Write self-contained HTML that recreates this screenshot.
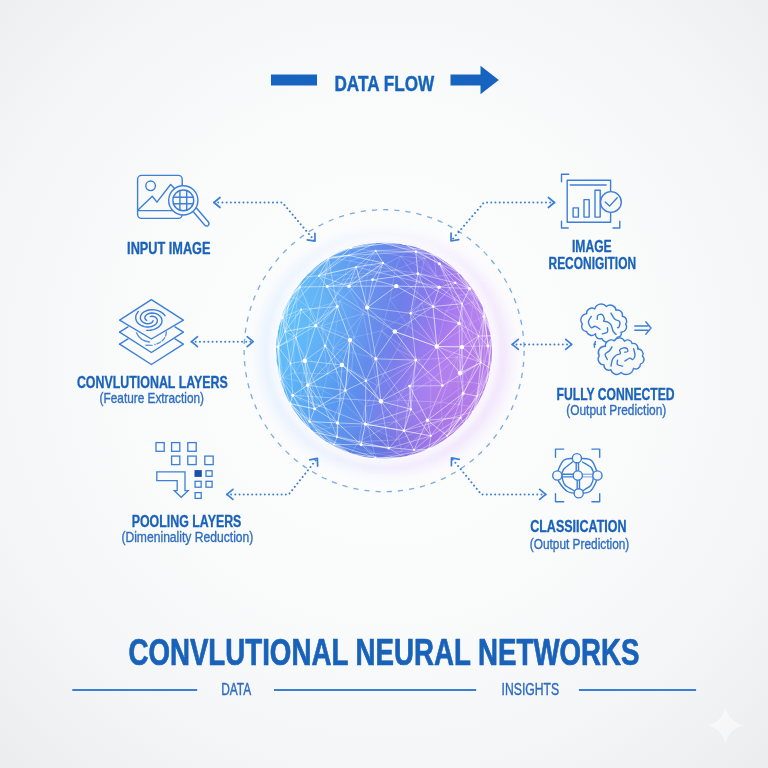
<!DOCTYPE html>
<html><head><meta charset="utf-8"><title>CNN</title>
<style>html,body{margin:0;padding:0;width:768px;height:768px;overflow:hidden;background:#f4f5f7;font-family:"Liberation Sans",sans-serif;}svg{display:block;will-change:transform}</style>
</head><body>
<svg width="768" height="768" viewBox="0 0 768 768" font-family='"Liberation Sans", sans-serif'><defs>
<radialGradient id="bg" cx="384" cy="360" r="600" gradientUnits="userSpaceOnUse">
 <stop offset="0" stop-color="#fdfdfd"/><stop offset="0.4" stop-color="#fafbfb"/><stop offset="0.7" stop-color="#f4f5f6"/><stop offset="1" stop-color="#e9eaec"/>
</radialGradient>
<linearGradient id="sph" x1="275" y1="340" x2="493" y2="362" gradientUnits="userSpaceOnUse">
 <stop offset="0" stop-color="#5cbaf9"/><stop offset="0.3" stop-color="#5798f0"/><stop offset="0.55" stop-color="#687be8"/><stop offset="0.78" stop-color="#a077ee"/><stop offset="1" stop-color="#cd88f6"/>
</linearGradient>
<radialGradient id="glow" cx="384" cy="350.5" r="145" gradientUnits="userSpaceOnUse">
 <stop offset="0.72" stop-color="#ffffff" stop-opacity="1"/><stop offset="0.82" stop-color="#fbfcff" stop-opacity="0.7"/><stop offset="1" stop-color="#ffffff" stop-opacity="0"/>
</radialGradient>
<radialGradient id="shade" cx="340" cy="300" r="150" gradientUnits="userSpaceOnUse">
 <stop offset="0" stop-color="#ffffff" stop-opacity="0.08"/><stop offset="0.7" stop-color="#ffffff" stop-opacity="0"/><stop offset="1" stop-color="#3040a0" stop-opacity="0.12"/>
</radialGradient>
<radialGradient id="purp" cx="470" cy="410" r="110" gradientUnits="userSpaceOnUse">
 <stop offset="0" stop-color="#c983f4" stop-opacity="0.8"/><stop offset="1" stop-color="#c983f4" stop-opacity="0"/>
</radialGradient>
<radialGradient id="lblue" cx="280" cy="320" r="90" gradientUnits="userSpaceOnUse">
 <stop offset="0" stop-color="#5cc0fa" stop-opacity="0.7"/><stop offset="1" stop-color="#5cc0fa" stop-opacity="0"/>
</radialGradient>
<clipPath id="sc"><circle cx="384" cy="350.5" r="109"/></clipPath>
<filter id="blur05" x="-50%" y="-50%" width="200%" height="200%"><feGaussianBlur stdDeviation="0.4"/></filter>
<filter id="blur3" x="-50%" y="-50%" width="200%" height="200%"><feGaussianBlur stdDeviation="3"/></filter>
<filter id="blur06" x="-50%" y="-50%" width="200%" height="200%"><feGaussianBlur stdDeviation="0.6"/></filter>
<filter id="blur2" x="-50%" y="-50%" width="200%" height="200%"><feGaussianBlur stdDeviation="1.2"/></filter>
<filter id="blur8" x="-50%" y="-50%" width="200%" height="200%"><feGaussianBlur stdDeviation="8"/></filter>
</defs>
<rect width="768" height="768" fill="url(#bg)"/>
<circle cx="384" cy="350.5" r="150" fill="url(#glow)"/>
<circle cx="375" cy="352.5" r="115" fill="#d3e8fc" opacity="0.6" filter="url(#blur8)"/>
<circle cx="396" cy="354.5" r="114" fill="#ead2fa" opacity="0.6" filter="url(#blur8)"/>
<circle cx="384" cy="350.5" r="111" fill="none" stroke="#ffffff" stroke-width="7" filter="url(#blur3)" opacity="0.85"/>
<circle cx="384" cy="350.5" r="109" fill="url(#sph)"/>
<circle cx="384" cy="350.5" r="109" fill="url(#purp)"/>
<circle cx="384" cy="350.5" r="109" fill="url(#lblue)"/>
<g clip-path="url(#sc)">
<circle cx="384" cy="350.5" r="109" fill="url(#shade)"/>
<g stroke="#ffffff" stroke-width="0.8" fill="none"><line x1="403.7" y1="243.5" x2="378.5" y2="241.8" stroke-opacity="0.7"/><line x1="367.2" y1="307.6" x2="383.0" y2="262.9" stroke-opacity="0.5"/><line x1="389.9" y1="299.5" x2="419.6" y2="282.2" stroke-opacity="0.28"/><line x1="436.8" y1="346.5" x2="394.8" y2="331.5" stroke-opacity="0.7"/><line x1="290.6" y1="297.1" x2="289.4" y2="296.9" stroke-opacity="0.5"/><line x1="374.4" y1="453.5" x2="401.3" y2="451.5" stroke-opacity="0.2"/><line x1="403.7" y1="243.5" x2="411.5" y2="247.9" stroke-opacity="0.6"/><line x1="363.2" y1="313.7" x2="354.3" y2="337.1" stroke-opacity="0.2"/><line x1="350.2" y1="261.1" x2="349.6" y2="248.5" stroke-opacity="0.2"/><line x1="427.4" y1="420.2" x2="442.4" y2="385.6" stroke-opacity="0.5"/><line x1="305.9" y1="355.9" x2="293.3" y2="340.4" stroke-opacity="0.2"/><line x1="374.4" y1="453.5" x2="358.8" y2="441.7" stroke-opacity="0.28"/><line x1="337.5" y1="422.9" x2="337.1" y2="437.1" stroke-opacity="0.7"/><line x1="367.4" y1="273.5" x2="323.6" y2="275.6" stroke-opacity="0.2"/><line x1="361.1" y1="444.6" x2="414.0" y2="450.0" stroke-opacity="0.7"/><line x1="340.9" y1="400.3" x2="368.0" y2="425.8" stroke-opacity="0.2"/><line x1="404.0" y1="430.7" x2="410.9" y2="409.2" stroke-opacity="0.7"/><line x1="404.4" y1="457.6" x2="388.8" y2="448.3" stroke-opacity="0.5"/><line x1="292.7" y1="395.2" x2="280.4" y2="379.7" stroke-opacity="0.5"/><line x1="430.9" y1="435.8" x2="404.0" y2="430.7" stroke-opacity="0.5"/><line x1="309.6" y1="421.6" x2="334.0" y2="444.5" stroke-opacity="0.5"/><line x1="333.1" y1="348.1" x2="340.9" y2="400.3" stroke-opacity="0.28"/><line x1="358.8" y1="441.7" x2="368.0" y2="425.8" stroke-opacity="0.2"/><line x1="350.9" y1="247.8" x2="349.6" y2="248.5" stroke-opacity="0.5"/><line x1="430.8" y1="380.5" x2="419.2" y2="359.9" stroke-opacity="0.28"/><line x1="440.6" y1="402.2" x2="458.6" y2="404.6" stroke-opacity="0.28"/><line x1="477.3" y1="396.2" x2="464.0" y2="424.2" stroke-opacity="0.7"/><line x1="462.0" y1="347.1" x2="478.5" y2="336.0" stroke-opacity="0.6"/><line x1="477.3" y1="396.2" x2="463.1" y2="393.4" stroke-opacity="0.7"/><line x1="284.8" y1="319.2" x2="282.4" y2="317.5" stroke-opacity="0.6"/><line x1="457.3" y1="357.1" x2="470.3" y2="324.0" stroke-opacity="0.2"/><line x1="427.4" y1="420.2" x2="414.0" y2="450.0" stroke-opacity="0.6"/><line x1="371.8" y1="357.3" x2="381.7" y2="330.8" stroke-opacity="0.28"/><line x1="430.4" y1="426.0" x2="401.3" y2="451.5" stroke-opacity="0.28"/><line x1="457.3" y1="357.1" x2="478.0" y2="359.6" stroke-opacity="0.2"/><line x1="314.7" y1="408.8" x2="290.2" y2="403.7" stroke-opacity="0.6"/><line x1="333.1" y1="348.1" x2="354.3" y2="337.1" stroke-opacity="0.2"/><line x1="469.5" y1="288.6" x2="455.3" y2="282.8" stroke-opacity="0.6"/><line x1="461.0" y1="273.6" x2="427.8" y2="250.9" stroke-opacity="0.7"/><line x1="361.1" y1="444.6" x2="334.0" y2="444.5" stroke-opacity="0.6"/><line x1="443.5" y1="433.3" x2="470.9" y2="406.5" stroke-opacity="0.28"/><line x1="470.3" y1="324.0" x2="457.6" y2="295.4" stroke-opacity="0.28"/><line x1="350.0" y1="340.1" x2="315.7" y2="325.8" stroke-opacity="0.5"/><line x1="430.4" y1="426.0" x2="458.6" y2="404.6" stroke-opacity="0.28"/><line x1="481.7" y1="384.0" x2="473.3" y2="411.7" stroke-opacity="0.28"/><line x1="280.4" y1="379.7" x2="277.9" y2="346.8" stroke-opacity="0.7"/><line x1="309.6" y1="421.6" x2="314.7" y2="408.8" stroke-opacity="0.6"/><line x1="294.5" y1="372.9" x2="327.7" y2="373.7" stroke-opacity="0.28"/><line x1="463.1" y1="393.4" x2="460.1" y2="373.0" stroke-opacity="0.5"/><line x1="363.2" y1="313.7" x2="343.1" y2="279.7" stroke-opacity="0.2"/><line x1="365.3" y1="424.1" x2="404.0" y2="430.7" stroke-opacity="0.6"/><line x1="475.4" y1="293.6" x2="473.3" y2="302.0" stroke-opacity="0.28"/><line x1="457.3" y1="357.1" x2="437.2" y2="345.5" stroke-opacity="0.2"/><line x1="326.3" y1="442.4" x2="315.6" y2="429.8" stroke-opacity="0.28"/><line x1="342.0" y1="365.0" x2="350.0" y2="340.1" stroke-opacity="0.5"/><line x1="318.8" y1="275.7" x2="348.6" y2="255.4" stroke-opacity="0.6"/><line x1="304.8" y1="360.8" x2="290.5" y2="363.5" stroke-opacity="0.5"/><line x1="436.8" y1="346.5" x2="460.1" y2="373.0" stroke-opacity="0.7"/><line x1="389.9" y1="299.5" x2="381.7" y2="330.8" stroke-opacity="0.2"/><line x1="339.9" y1="300.9" x2="367.4" y2="273.5" stroke-opacity="0.28"/><line x1="380.9" y1="401.3" x2="365.9" y2="380.8" stroke-opacity="0.7"/><line x1="304.8" y1="360.8" x2="307.6" y2="385.2" stroke-opacity="0.6"/><line x1="345.4" y1="390.5" x2="337.5" y2="422.9" stroke-opacity="0.7"/><line x1="409.6" y1="386.1" x2="436.8" y2="346.5" stroke-opacity="0.5"/><line x1="404.4" y1="457.6" x2="429.0" y2="449.0" stroke-opacity="0.5"/><line x1="439.4" y1="263.8" x2="427.8" y2="250.9" stroke-opacity="0.6"/><line x1="280.4" y1="379.7" x2="290.5" y2="363.5" stroke-opacity="0.5"/><line x1="395.2" y1="270.0" x2="343.1" y2="279.7" stroke-opacity="0.28"/><line x1="395.2" y1="270.0" x2="436.4" y2="276.3" stroke-opacity="0.28"/><line x1="367.2" y1="307.6" x2="394.8" y2="331.5" stroke-opacity="0.5"/><line x1="459.1" y1="323.3" x2="462.1" y2="303.7" stroke-opacity="0.7"/><line x1="447.2" y1="435.8" x2="473.3" y2="411.7" stroke-opacity="0.7"/><line x1="329.6" y1="428.0" x2="368.0" y2="425.8" stroke-opacity="0.2"/><line x1="389.9" y1="299.5" x2="408.2" y2="326.1" stroke-opacity="0.2"/><line x1="377.4" y1="385.8" x2="368.0" y2="425.8" stroke-opacity="0.28"/><line x1="377.4" y1="385.8" x2="419.2" y2="359.9" stroke-opacity="0.28"/><line x1="389.9" y1="299.5" x2="395.2" y2="270.0" stroke-opacity="0.2"/><line x1="311.8" y1="431.7" x2="315.6" y2="429.8" stroke-opacity="0.2"/><line x1="464.0" y1="424.2" x2="470.9" y2="406.5" stroke-opacity="0.2"/><line x1="342.0" y1="365.0" x2="304.8" y2="360.8" stroke-opacity="0.5"/><line x1="468.9" y1="382.1" x2="458.6" y2="404.6" stroke-opacity="0.28"/><line x1="305.9" y1="355.9" x2="299.8" y2="400.1" stroke-opacity="0.2"/><line x1="327.7" y1="373.7" x2="354.3" y2="337.1" stroke-opacity="0.2"/><line x1="415.8" y1="360.1" x2="380.9" y2="401.3" stroke-opacity="0.5"/><line x1="377.1" y1="251.0" x2="349.6" y2="248.5" stroke-opacity="0.28"/><line x1="388.8" y1="243.1" x2="403.7" y2="243.5" stroke-opacity="0.5"/><line x1="478.0" y1="359.6" x2="468.9" y2="382.1" stroke-opacity="0.28"/><line x1="478.0" y1="359.6" x2="458.6" y2="404.6" stroke-opacity="0.2"/><line x1="374.4" y1="453.5" x2="378.2" y2="459.2" stroke-opacity="0.2"/><line x1="424.6" y1="258.4" x2="400.6" y2="256.3" stroke-opacity="0.28"/><line x1="327.1" y1="286.5" x2="372.6" y2="279.7" stroke-opacity="0.6"/><line x1="457.5" y1="273.6" x2="473.3" y2="302.0" stroke-opacity="0.2"/><line x1="305.9" y1="355.9" x2="327.7" y2="373.7" stroke-opacity="0.2"/><line x1="481.7" y1="384.0" x2="468.9" y2="382.1" stroke-opacity="0.28"/><line x1="300.1" y1="287.0" x2="285.1" y2="331.5" stroke-opacity="0.6"/><line x1="477.3" y1="396.2" x2="480.9" y2="362.4" stroke-opacity="0.6"/><line x1="396.3" y1="286.1" x2="433.1" y2="306.5" stroke-opacity="0.7"/><line x1="396.0" y1="421.3" x2="440.6" y2="402.2" stroke-opacity="0.28"/><line x1="430.9" y1="435.8" x2="410.9" y2="409.2" stroke-opacity="0.6"/><line x1="290.6" y1="297.1" x2="300.1" y2="287.0" stroke-opacity="0.6"/><line x1="350.2" y1="261.1" x2="377.1" y2="251.0" stroke-opacity="0.28"/><line x1="434.0" y1="255.1" x2="415.8" y2="251.7" stroke-opacity="0.7"/><line x1="335.9" y1="442.6" x2="315.6" y2="429.8" stroke-opacity="0.2"/><line x1="278.7" y1="347.5" x2="283.6" y2="391.4" stroke-opacity="0.28"/><line x1="404.0" y1="430.7" x2="414.0" y2="450.0" stroke-opacity="0.7"/><line x1="297.1" y1="298.7" x2="323.6" y2="275.6" stroke-opacity="0.2"/><line x1="328.1" y1="257.1" x2="323.6" y2="275.6" stroke-opacity="0.28"/><line x1="303.5" y1="277.1" x2="289.4" y2="296.9" stroke-opacity="0.5"/><line x1="483.5" y1="306.4" x2="473.3" y2="302.0" stroke-opacity="0.2"/><line x1="374.4" y1="453.5" x2="335.9" y2="442.6" stroke-opacity="0.2"/><line x1="415.8" y1="251.7" x2="439.4" y2="263.8" stroke-opacity="0.6"/><line x1="409.6" y1="386.1" x2="427.4" y2="420.2" stroke-opacity="0.7"/><line x1="350.9" y1="247.8" x2="318.8" y2="275.7" stroke-opacity="0.6"/><line x1="481.7" y1="384.0" x2="485.7" y2="389.6" stroke-opacity="0.28"/><line x1="300.1" y1="287.0" x2="289.4" y2="296.9" stroke-opacity="0.5"/><line x1="388.8" y1="243.1" x2="411.5" y2="247.9" stroke-opacity="0.28"/><line x1="430.9" y1="435.8" x2="429.0" y2="449.0" stroke-opacity="0.5"/><line x1="298.3" y1="413.6" x2="283.3" y2="377.6" stroke-opacity="0.2"/><line x1="333.1" y1="348.1" x2="351.7" y2="370.2" stroke-opacity="0.2"/><line x1="326.3" y1="442.4" x2="335.9" y2="442.6" stroke-opacity="0.2"/><line x1="461.0" y1="273.6" x2="475.4" y2="293.6" stroke-opacity="0.6"/><line x1="342.0" y1="365.0" x2="380.9" y2="401.3" stroke-opacity="0.6"/><line x1="483.8" y1="316.5" x2="455.3" y2="282.8" stroke-opacity="0.6"/><line x1="377.1" y1="251.0" x2="400.6" y2="256.3" stroke-opacity="0.2"/><line x1="374.4" y1="453.5" x2="368.0" y2="425.8" stroke-opacity="0.28"/><line x1="310.9" y1="309.4" x2="339.9" y2="300.9" stroke-opacity="0.28"/><line x1="365.3" y1="424.1" x2="410.9" y2="409.2" stroke-opacity="0.6"/><line x1="395.2" y1="270.0" x2="400.6" y2="256.3" stroke-opacity="0.2"/><line x1="277.2" y1="328.8" x2="278.7" y2="347.5" stroke-opacity="0.28"/><line x1="375.4" y1="457.4" x2="334.0" y2="444.5" stroke-opacity="0.6"/><line x1="470.3" y1="324.0" x2="473.3" y2="302.0" stroke-opacity="0.2"/><line x1="439.4" y1="263.8" x2="462.1" y2="303.7" stroke-opacity="0.7"/><line x1="433.1" y1="306.5" x2="417.9" y2="273.7" stroke-opacity="0.5"/><line x1="475.4" y1="293.6" x2="457.6" y2="295.4" stroke-opacity="0.28"/><line x1="311.8" y1="431.7" x2="335.9" y2="442.6" stroke-opacity="0.2"/><line x1="475.4" y1="293.6" x2="485.4" y2="337.9" stroke-opacity="0.28"/><line x1="488.1" y1="346.0" x2="491.0" y2="368.9" stroke-opacity="0.5"/><line x1="303.5" y1="277.1" x2="290.6" y2="297.1" stroke-opacity="0.6"/><line x1="356.2" y1="266.9" x2="327.1" y2="286.5" stroke-opacity="0.6"/><line x1="278.7" y1="347.5" x2="290.6" y2="297.1" stroke-opacity="0.28"/><line x1="485.7" y1="389.6" x2="473.3" y2="411.7" stroke-opacity="0.6"/><line x1="415.8" y1="360.1" x2="394.8" y2="331.5" stroke-opacity="0.7"/><line x1="321.6" y1="325.7" x2="354.3" y2="337.1" stroke-opacity="0.2"/><line x1="327.1" y1="286.5" x2="300.1" y2="287.0" stroke-opacity="0.6"/><line x1="375.4" y1="457.4" x2="404.4" y2="457.6" stroke-opacity="0.7"/><line x1="447.2" y1="435.8" x2="404.4" y2="457.6" stroke-opacity="0.5"/><line x1="459.1" y1="323.3" x2="478.5" y2="336.0" stroke-opacity="0.5"/><line x1="446.1" y1="311.1" x2="473.3" y2="302.0" stroke-opacity="0.28"/><line x1="433.1" y1="306.5" x2="462.1" y2="303.7" stroke-opacity="0.7"/><line x1="339.9" y1="300.9" x2="354.3" y2="337.1" stroke-opacity="0.28"/><line x1="304.8" y1="360.8" x2="325.2" y2="345.8" stroke-opacity="0.5"/><line x1="462.0" y1="347.1" x2="436.8" y2="346.5" stroke-opacity="0.7"/><line x1="365.3" y1="424.1" x2="361.1" y2="444.6" stroke-opacity="0.7"/><line x1="491.8" y1="335.8" x2="489.2" y2="362.3" stroke-opacity="0.5"/><line x1="292.7" y1="395.2" x2="309.6" y2="421.6" stroke-opacity="0.5"/><line x1="367.2" y1="307.6" x2="375.8" y2="358.8" stroke-opacity="0.6"/><line x1="396.0" y1="421.3" x2="398.1" y2="400.1" stroke-opacity="0.2"/><line x1="436.8" y1="346.5" x2="433.1" y2="306.5" stroke-opacity="0.5"/><line x1="328.6" y1="258.5" x2="375.7" y2="250.7" stroke-opacity="0.5"/><line x1="404.0" y1="430.7" x2="380.9" y2="401.3" stroke-opacity="0.6"/><line x1="350.6" y1="453.8" x2="315.6" y2="429.8" stroke-opacity="0.28"/><line x1="365.3" y1="424.1" x2="337.5" y2="422.9" stroke-opacity="0.6"/><line x1="400.6" y1="256.3" x2="411.5" y2="247.9" stroke-opacity="0.2"/><line x1="459.1" y1="323.3" x2="480.9" y2="362.4" stroke-opacity="0.5"/><line x1="430.9" y1="435.8" x2="414.0" y2="450.0" stroke-opacity="0.5"/><line x1="480.9" y1="362.4" x2="460.1" y2="373.0" stroke-opacity="0.7"/><line x1="328.1" y1="257.1" x2="350.2" y2="261.1" stroke-opacity="0.28"/><line x1="349.6" y1="248.5" x2="378.5" y2="241.8" stroke-opacity="0.7"/><line x1="301.1" y1="309.5" x2="285.1" y2="331.5" stroke-opacity="0.6"/><line x1="430.9" y1="435.8" x2="460.6" y2="417.5" stroke-opacity="0.5"/><line x1="277.9" y1="346.8" x2="278.7" y2="347.5" stroke-opacity="0.5"/><line x1="430.8" y1="380.5" x2="397.3" y2="349.4" stroke-opacity="0.2"/><line x1="381.7" y1="330.8" x2="397.3" y2="349.4" stroke-opacity="0.28"/><line x1="477.3" y1="396.2" x2="473.3" y2="411.7" stroke-opacity="0.5"/><line x1="303.5" y1="277.1" x2="282.4" y2="317.5" stroke-opacity="0.5"/><line x1="457.5" y1="273.6" x2="475.4" y2="293.6" stroke-opacity="0.2"/><line x1="310.9" y1="309.4" x2="297.1" y2="298.7" stroke-opacity="0.28"/><line x1="462.0" y1="347.1" x2="460.1" y2="373.0" stroke-opacity="0.5"/><line x1="321.6" y1="325.7" x2="343.1" y2="279.7" stroke-opacity="0.28"/><line x1="469.5" y1="288.6" x2="462.1" y2="303.7" stroke-opacity="0.7"/><line x1="304.8" y1="360.8" x2="315.7" y2="325.8" stroke-opacity="0.6"/><line x1="349.0" y1="286.2" x2="383.0" y2="262.9" stroke-opacity="0.7"/><line x1="424.6" y1="258.4" x2="436.4" y2="276.3" stroke-opacity="0.28"/><line x1="434.0" y1="255.1" x2="424.6" y2="258.4" stroke-opacity="0.28"/><line x1="401.3" y1="451.5" x2="378.2" y2="459.2" stroke-opacity="0.2"/><line x1="298.3" y1="413.6" x2="329.6" y2="428.0" stroke-opacity="0.28"/><line x1="299.8" y1="400.1" x2="319.4" y2="406.4" stroke-opacity="0.2"/><line x1="358.8" y1="441.7" x2="365.1" y2="406.3" stroke-opacity="0.28"/><line x1="483.5" y1="306.4" x2="475.4" y2="293.6" stroke-opacity="0.6"/><line x1="436.8" y1="346.5" x2="410.6" y2="313.3" stroke-opacity="0.5"/><line x1="464.0" y1="424.2" x2="473.3" y2="411.7" stroke-opacity="0.5"/><line x1="303.5" y1="277.1" x2="328.6" y2="258.5" stroke-opacity="0.6"/><line x1="484.9" y1="315.4" x2="473.3" y2="302.0" stroke-opacity="0.2"/><line x1="427.4" y1="420.2" x2="460.6" y2="417.5" stroke-opacity="0.6"/><line x1="470.3" y1="324.0" x2="485.4" y2="337.9" stroke-opacity="0.2"/><line x1="491.0" y1="368.9" x2="473.3" y2="411.7" stroke-opacity="0.7"/><line x1="342.0" y1="365.0" x2="365.9" y2="380.8" stroke-opacity="0.7"/><line x1="351.7" y1="370.2" x2="327.7" y2="373.7" stroke-opacity="0.2"/><line x1="437.2" y1="345.5" x2="421.4" y2="303.1" stroke-opacity="0.28"/><line x1="429.0" y1="449.0" x2="460.6" y2="417.5" stroke-opacity="0.6"/><line x1="310.9" y1="309.4" x2="323.6" y2="275.6" stroke-opacity="0.2"/><line x1="292.7" y1="395.2" x2="290.5" y2="363.5" stroke-opacity="0.5"/><line x1="363.2" y1="313.7" x2="321.6" y2="325.7" stroke-opacity="0.28"/><line x1="293.3" y1="340.4" x2="283.3" y2="377.6" stroke-opacity="0.2"/><line x1="398.1" y1="400.1" x2="368.0" y2="425.8" stroke-opacity="0.2"/><line x1="398.1" y1="400.1" x2="419.2" y2="359.9" stroke-opacity="0.2"/><line x1="290.5" y1="363.5" x2="285.1" y2="331.5" stroke-opacity="0.6"/><line x1="483.8" y1="316.5" x2="469.5" y2="288.6" stroke-opacity="0.5"/><line x1="461.0" y1="273.6" x2="469.5" y2="288.6" stroke-opacity="0.7"/><line x1="350.6" y1="453.8" x2="335.9" y2="442.6" stroke-opacity="0.2"/><line x1="356.2" y1="266.9" x2="349.0" y2="286.2" stroke-opacity="0.6"/><line x1="377.4" y1="385.8" x2="397.3" y2="349.4" stroke-opacity="0.28"/><line x1="428.2" y1="449.3" x2="378.2" y2="459.2" stroke-opacity="0.6"/><line x1="481.7" y1="384.0" x2="491.0" y2="368.9" stroke-opacity="0.28"/><line x1="298.3" y1="413.6" x2="315.6" y2="429.8" stroke-opacity="0.2"/><line x1="478.5" y1="336.0" x2="460.1" y2="373.0" stroke-opacity="0.7"/><line x1="295.9" y1="337.5" x2="285.1" y2="331.5" stroke-opacity="0.5"/><line x1="397.1" y1="439.9" x2="358.8" y2="441.7" stroke-opacity="0.28"/><line x1="430.4" y1="426.0" x2="470.9" y2="406.5" stroke-opacity="0.2"/><line x1="457.3" y1="357.1" x2="468.9" y2="382.1" stroke-opacity="0.2"/><line x1="469.5" y1="288.6" x2="439.4" y2="263.8" stroke-opacity="0.7"/><line x1="446.1" y1="311.1" x2="457.6" y2="295.4" stroke-opacity="0.28"/><line x1="415.8" y1="360.1" x2="375.8" y2="358.8" stroke-opacity="0.6"/><line x1="283.3" y1="377.6" x2="311.1" y2="384.0" stroke-opacity="0.28"/><line x1="371.8" y1="357.3" x2="377.4" y2="385.8" stroke-opacity="0.2"/><line x1="340.9" y1="400.3" x2="319.4" y2="406.4" stroke-opacity="0.28"/><line x1="388.8" y1="243.1" x2="349.6" y2="248.5" stroke-opacity="0.28"/><line x1="470.9" y1="406.5" x2="489.2" y2="362.3" stroke-opacity="0.28"/><line x1="461.0" y1="273.6" x2="457.5" y2="273.6" stroke-opacity="0.7"/><line x1="275.8" y1="361.5" x2="283.3" y2="377.6" stroke-opacity="0.28"/><line x1="303.5" y1="277.1" x2="318.8" y2="275.7" stroke-opacity="0.5"/><line x1="377.4" y1="385.8" x2="365.1" y2="406.3" stroke-opacity="0.28"/><line x1="477.3" y1="396.2" x2="485.7" y2="389.6" stroke-opacity="0.6"/><line x1="314.7" y1="408.8" x2="337.5" y2="422.9" stroke-opacity="0.6"/><line x1="356.2" y1="266.9" x2="383.0" y2="262.9" stroke-opacity="0.7"/><line x1="396.0" y1="421.3" x2="397.1" y2="439.9" stroke-opacity="0.2"/><line x1="464.0" y1="424.2" x2="460.6" y2="417.5" stroke-opacity="0.6"/><line x1="470.3" y1="324.0" x2="478.0" y2="359.6" stroke-opacity="0.2"/><line x1="297.1" y1="298.7" x2="289.4" y2="296.9" stroke-opacity="0.2"/><line x1="307.6" y1="385.2" x2="337.5" y2="422.9" stroke-opacity="0.6"/><line x1="345.4" y1="390.5" x2="365.9" y2="380.8" stroke-opacity="0.6"/><line x1="301.1" y1="309.5" x2="295.9" y2="337.5" stroke-opacity="0.6"/><line x1="481.7" y1="384.0" x2="458.6" y2="404.6" stroke-opacity="0.2"/><line x1="368.0" y1="425.8" x2="365.1" y2="406.3" stroke-opacity="0.28"/><line x1="367.2" y1="307.6" x2="410.6" y2="313.3" stroke-opacity="0.5"/><line x1="309.6" y1="421.6" x2="337.1" y2="437.1" stroke-opacity="0.5"/><line x1="348.6" y1="255.4" x2="328.6" y2="258.5" stroke-opacity="0.7"/><line x1="275.8" y1="361.5" x2="277.9" y2="346.8" stroke-opacity="0.5"/><line x1="371.8" y1="357.3" x2="354.3" y2="337.1" stroke-opacity="0.2"/><line x1="356.2" y1="266.9" x2="318.8" y2="275.7" stroke-opacity="0.5"/><line x1="367.4" y1="273.5" x2="400.6" y2="256.3" stroke-opacity="0.28"/><line x1="470.3" y1="324.0" x2="437.2" y2="345.5" stroke-opacity="0.28"/><line x1="446.1" y1="311.1" x2="470.3" y2="324.0" stroke-opacity="0.2"/><line x1="417.9" y1="273.7" x2="372.6" y2="279.7" stroke-opacity="0.7"/><line x1="459.1" y1="323.3" x2="436.8" y2="346.5" stroke-opacity="0.7"/><line x1="333.1" y1="348.1" x2="363.2" y2="313.7" stroke-opacity="0.28"/><line x1="361.1" y1="444.6" x2="388.8" y2="448.3" stroke-opacity="0.5"/><line x1="408.2" y1="326.1" x2="419.6" y2="282.2" stroke-opacity="0.2"/><line x1="424.6" y1="258.4" x2="427.8" y2="250.9" stroke-opacity="0.2"/><line x1="311.1" y1="384.0" x2="319.4" y2="406.4" stroke-opacity="0.28"/><line x1="408.2" y1="326.1" x2="437.2" y2="345.5" stroke-opacity="0.28"/><line x1="319.4" y1="406.4" x2="327.7" y2="373.7" stroke-opacity="0.2"/><line x1="301.1" y1="309.5" x2="282.4" y2="317.5" stroke-opacity="0.5"/><line x1="491.8" y1="335.8" x2="478.5" y2="336.0" stroke-opacity="0.7"/><line x1="277.2" y1="328.8" x2="289.4" y2="296.9" stroke-opacity="0.6"/><line x1="447.2" y1="435.8" x2="460.6" y2="417.5" stroke-opacity="0.7"/><line x1="455.3" y1="282.8" x2="417.9" y2="273.7" stroke-opacity="0.6"/><line x1="348.6" y1="255.4" x2="383.0" y2="262.9" stroke-opacity="0.7"/><line x1="309.6" y1="421.6" x2="290.2" y2="403.7" stroke-opacity="0.7"/><line x1="403.7" y1="243.5" x2="439.4" y2="263.8" stroke-opacity="0.6"/><line x1="484.9" y1="315.4" x2="457.6" y2="295.4" stroke-opacity="0.28"/><line x1="290.6" y1="297.1" x2="317.0" y2="268.6" stroke-opacity="0.2"/><line x1="297.1" y1="298.7" x2="290.6" y2="297.1" stroke-opacity="0.28"/><line x1="491.0" y1="368.9" x2="480.9" y2="362.4" stroke-opacity="0.7"/><line x1="333.1" y1="348.1" x2="327.7" y2="373.7" stroke-opacity="0.28"/><line x1="298.3" y1="413.6" x2="335.9" y2="442.6" stroke-opacity="0.2"/><line x1="457.5" y1="273.6" x2="483.5" y2="306.4" stroke-opacity="0.5"/><line x1="380.9" y1="401.3" x2="375.8" y2="358.8" stroke-opacity="0.7"/><line x1="439.1" y1="287.2" x2="433.1" y2="306.5" stroke-opacity="0.6"/><line x1="401.3" y1="451.5" x2="358.8" y2="441.7" stroke-opacity="0.2"/><line x1="447.2" y1="435.8" x2="427.4" y2="420.2" stroke-opacity="0.7"/><line x1="446.1" y1="311.1" x2="437.2" y2="345.5" stroke-opacity="0.2"/><line x1="307.6" y1="385.2" x2="295.9" y2="337.5" stroke-opacity="0.6"/><line x1="289.4" y1="296.9" x2="285.1" y2="331.5" stroke-opacity="0.5"/><line x1="340.9" y1="400.3" x2="351.7" y2="370.2" stroke-opacity="0.28"/><line x1="439.1" y1="287.2" x2="417.9" y2="273.7" stroke-opacity="0.6"/><line x1="363.2" y1="313.7" x2="339.9" y2="300.9" stroke-opacity="0.2"/><line x1="350.0" y1="340.1" x2="365.9" y2="380.8" stroke-opacity="0.5"/><line x1="350.6" y1="453.8" x2="358.8" y2="441.7" stroke-opacity="0.28"/><line x1="290.5" y1="363.5" x2="295.9" y2="337.5" stroke-opacity="0.5"/><line x1="282.4" y1="317.5" x2="285.1" y2="331.5" stroke-opacity="0.7"/><line x1="311.8" y1="431.7" x2="337.1" y2="437.1" stroke-opacity="0.7"/><line x1="275.8" y1="361.5" x2="284.8" y2="319.2" stroke-opacity="0.2"/><line x1="358.8" y1="441.7" x2="315.6" y2="429.8" stroke-opacity="0.28"/><line x1="459.1" y1="323.3" x2="460.1" y2="373.0" stroke-opacity="0.5"/><line x1="328.6" y1="258.5" x2="317.0" y2="268.6" stroke-opacity="0.7"/><line x1="485.4" y1="337.9" x2="473.3" y2="302.0" stroke-opacity="0.2"/><line x1="396.0" y1="421.3" x2="401.3" y2="451.5" stroke-opacity="0.2"/><line x1="367.4" y1="273.5" x2="377.1" y2="251.0" stroke-opacity="0.2"/><line x1="277.9" y1="346.8" x2="285.1" y2="331.5" stroke-opacity="0.7"/><line x1="328.1" y1="257.1" x2="349.6" y2="248.5" stroke-opacity="0.2"/><line x1="461.0" y1="273.6" x2="439.4" y2="263.8" stroke-opacity="0.5"/><line x1="394.8" y1="331.5" x2="375.8" y2="358.8" stroke-opacity="0.6"/><line x1="345.4" y1="390.5" x2="314.7" y2="408.8" stroke-opacity="0.7"/><line x1="299.8" y1="400.1" x2="283.3" y2="377.6" stroke-opacity="0.28"/><line x1="311.8" y1="431.7" x2="298.3" y2="413.6" stroke-opacity="0.7"/><line x1="401.3" y1="451.5" x2="428.2" y2="449.3" stroke-opacity="0.2"/><line x1="299.8" y1="400.1" x2="311.1" y2="384.0" stroke-opacity="0.2"/><line x1="333.1" y1="348.1" x2="310.9" y2="309.4" stroke-opacity="0.28"/><line x1="377.1" y1="251.0" x2="411.5" y2="247.9" stroke-opacity="0.28"/><line x1="277.2" y1="328.8" x2="290.6" y2="297.1" stroke-opacity="0.6"/><line x1="491.8" y1="335.8" x2="483.5" y2="306.4" stroke-opacity="0.5"/><line x1="282.4" y1="317.5" x2="289.4" y2="296.9" stroke-opacity="0.5"/><line x1="484.9" y1="315.4" x2="470.3" y2="324.0" stroke-opacity="0.2"/><line x1="311.8" y1="431.7" x2="290.2" y2="403.7" stroke-opacity="0.5"/><line x1="484.9" y1="315.4" x2="478.0" y2="359.6" stroke-opacity="0.2"/><line x1="284.8" y1="319.2" x2="278.7" y2="347.5" stroke-opacity="0.2"/><line x1="298.3" y1="413.6" x2="283.6" y2="391.4" stroke-opacity="0.2"/><line x1="383.0" y1="262.9" x2="372.6" y2="279.7" stroke-opacity="0.5"/><line x1="439.1" y1="287.2" x2="455.3" y2="282.8" stroke-opacity="0.5"/><line x1="478.0" y1="359.6" x2="489.2" y2="362.3" stroke-opacity="0.2"/><line x1="415.8" y1="360.1" x2="410.6" y2="313.3" stroke-opacity="0.5"/><line x1="434.0" y1="255.1" x2="411.5" y2="247.9" stroke-opacity="0.28"/><line x1="397.1" y1="439.9" x2="368.0" y2="425.8" stroke-opacity="0.2"/><line x1="307.6" y1="385.2" x2="314.7" y2="408.8" stroke-opacity="0.6"/><line x1="388.8" y1="243.1" x2="350.9" y2="247.8" stroke-opacity="0.6"/><line x1="491.8" y1="335.8" x2="484.9" y2="315.4" stroke-opacity="0.7"/><line x1="480.9" y1="362.4" x2="463.1" y2="393.4" stroke-opacity="0.7"/><line x1="481.7" y1="384.0" x2="489.2" y2="362.3" stroke-opacity="0.2"/><line x1="280.4" y1="379.7" x2="277.2" y2="328.8" stroke-opacity="0.7"/><line x1="294.5" y1="372.9" x2="319.4" y2="406.4" stroke-opacity="0.28"/><line x1="375.4" y1="457.4" x2="378.2" y2="459.2" stroke-opacity="0.5"/><line x1="290.5" y1="363.5" x2="314.7" y2="408.8" stroke-opacity="0.5"/><line x1="377.4" y1="385.8" x2="351.7" y2="370.2" stroke-opacity="0.28"/><line x1="317.0" y1="268.6" x2="289.4" y2="296.9" stroke-opacity="0.7"/><line x1="408.2" y1="326.1" x2="397.3" y2="349.4" stroke-opacity="0.2"/><line x1="462.0" y1="347.1" x2="463.1" y2="393.4" stroke-opacity="0.5"/><line x1="485.4" y1="337.9" x2="489.2" y2="362.3" stroke-opacity="0.2"/><line x1="284.8" y1="319.2" x2="290.6" y2="297.1" stroke-opacity="0.2"/><line x1="483.8" y1="316.5" x2="478.5" y2="336.0" stroke-opacity="0.5"/><line x1="342.0" y1="365.0" x2="307.6" y2="385.2" stroke-opacity="0.7"/><line x1="328.1" y1="257.1" x2="328.6" y2="258.5" stroke-opacity="0.5"/><line x1="478.5" y1="336.0" x2="462.1" y2="303.7" stroke-opacity="0.6"/><line x1="340.9" y1="400.3" x2="311.1" y2="384.0" stroke-opacity="0.2"/><line x1="315.7" y1="325.8" x2="285.1" y2="331.5" stroke-opacity="0.7"/><line x1="307.6" y1="385.2" x2="309.6" y2="421.6" stroke-opacity="0.7"/><line x1="415.8" y1="251.7" x2="375.7" y2="250.7" stroke-opacity="0.6"/><line x1="404.0" y1="430.7" x2="388.8" y2="448.3" stroke-opacity="0.5"/><line x1="380.9" y1="401.3" x2="410.9" y2="409.2" stroke-opacity="0.7"/><line x1="339.9" y1="300.9" x2="321.6" y2="325.7" stroke-opacity="0.28"/><line x1="415.8" y1="251.7" x2="378.5" y2="241.8" stroke-opacity="0.6"/><line x1="365.3" y1="424.1" x2="365.9" y2="380.8" stroke-opacity="0.6"/><line x1="305.9" y1="355.9" x2="294.5" y2="372.9" stroke-opacity="0.28"/><line x1="398.1" y1="400.1" x2="371.8" y2="357.3" stroke-opacity="0.2"/><line x1="277.2" y1="328.8" x2="282.4" y2="317.5" stroke-opacity="0.7"/><line x1="477.3" y1="396.2" x2="491.0" y2="368.9" stroke-opacity="0.5"/><line x1="350.6" y1="453.8" x2="374.4" y2="453.5" stroke-opacity="0.2"/><line x1="434.0" y1="255.1" x2="388.8" y2="243.1" stroke-opacity="0.2"/><line x1="434.0" y1="255.1" x2="457.5" y2="273.6" stroke-opacity="0.2"/><line x1="409.6" y1="386.1" x2="410.9" y2="409.2" stroke-opacity="0.7"/><line x1="483.8" y1="316.5" x2="480.9" y2="362.4" stroke-opacity="0.6"/><line x1="292.7" y1="395.2" x2="290.2" y2="403.7" stroke-opacity="0.7"/><line x1="427.4" y1="420.2" x2="463.1" y2="393.4" stroke-opacity="0.7"/><line x1="478.0" y1="359.6" x2="485.4" y2="337.9" stroke-opacity="0.28"/><line x1="394.8" y1="331.5" x2="433.1" y2="306.5" stroke-opacity="0.5"/><line x1="303.5" y1="277.1" x2="317.0" y2="268.6" stroke-opacity="0.2"/><line x1="311.8" y1="431.7" x2="292.7" y2="395.2" stroke-opacity="0.5"/><line x1="488.1" y1="346.0" x2="478.5" y2="336.0" stroke-opacity="0.6"/><line x1="307.6" y1="385.2" x2="345.4" y2="390.5" stroke-opacity="0.6"/><line x1="443.5" y1="433.3" x2="464.0" y2="424.2" stroke-opacity="0.28"/><line x1="477.3" y1="396.2" x2="488.1" y2="346.0" stroke-opacity="0.5"/><line x1="350.0" y1="340.1" x2="337.3" y2="306.5" stroke-opacity="0.7"/><line x1="481.7" y1="384.0" x2="485.4" y2="337.9" stroke-opacity="0.28"/><line x1="419.2" y1="359.9" x2="381.7" y2="330.8" stroke-opacity="0.28"/><line x1="430.8" y1="380.5" x2="457.3" y2="357.1" stroke-opacity="0.28"/><line x1="457.5" y1="273.6" x2="436.4" y2="276.3" stroke-opacity="0.28"/><line x1="280.4" y1="379.7" x2="275.8" y2="361.5" stroke-opacity="0.5"/><line x1="282.4" y1="317.5" x2="295.9" y2="337.5" stroke-opacity="0.5"/><line x1="480.9" y1="362.4" x2="478.5" y2="336.0" stroke-opacity="0.7"/><line x1="337.3" y1="306.5" x2="325.2" y2="345.8" stroke-opacity="0.6"/><line x1="292.7" y1="395.2" x2="307.6" y2="385.2" stroke-opacity="0.7"/><line x1="440.6" y1="402.2" x2="468.9" y2="382.1" stroke-opacity="0.28"/><line x1="396.3" y1="286.1" x2="349.0" y2="286.2" stroke-opacity="0.6"/><line x1="356.2" y1="266.9" x2="367.2" y2="307.6" stroke-opacity="0.7"/><line x1="381.7" y1="330.8" x2="354.3" y2="337.1" stroke-opacity="0.2"/><line x1="483.8" y1="316.5" x2="483.5" y2="306.4" stroke-opacity="0.7"/><line x1="277.9" y1="346.8" x2="295.9" y2="337.5" stroke-opacity="0.7"/><line x1="398.1" y1="400.1" x2="365.1" y2="406.3" stroke-opacity="0.28"/><line x1="436.8" y1="346.5" x2="442.4" y2="385.6" stroke-opacity="0.6"/><line x1="440.6" y1="402.2" x2="398.1" y2="400.1" stroke-opacity="0.28"/><line x1="424.6" y1="258.4" x2="419.6" y2="282.2" stroke-opacity="0.28"/><line x1="427.8" y1="250.9" x2="411.5" y2="247.9" stroke-opacity="0.7"/><line x1="443.5" y1="433.3" x2="428.2" y2="449.3" stroke-opacity="0.2"/><line x1="436.4" y1="276.3" x2="411.5" y2="247.9" stroke-opacity="0.28"/><line x1="321.6" y1="325.7" x2="327.7" y2="373.7" stroke-opacity="0.28"/><line x1="457.3" y1="357.1" x2="458.6" y2="404.6" stroke-opacity="0.2"/><line x1="415.8" y1="251.7" x2="417.9" y2="273.7" stroke-opacity="0.7"/><line x1="350.0" y1="340.1" x2="345.4" y2="390.5" stroke-opacity="0.6"/><line x1="310.9" y1="309.4" x2="284.8" y2="319.2" stroke-opacity="0.28"/><line x1="290.5" y1="363.5" x2="277.9" y2="346.8" stroke-opacity="0.6"/><line x1="419.2" y1="359.9" x2="397.3" y2="349.4" stroke-opacity="0.28"/><line x1="459.1" y1="323.3" x2="433.1" y2="306.5" stroke-opacity="0.7"/><line x1="333.1" y1="348.1" x2="321.6" y2="325.7" stroke-opacity="0.28"/><line x1="282.4" y1="317.5" x2="300.1" y2="287.0" stroke-opacity="0.6"/><line x1="484.9" y1="315.4" x2="483.5" y2="306.4" stroke-opacity="0.7"/><line x1="463.1" y1="393.4" x2="460.6" y2="417.5" stroke-opacity="0.5"/><line x1="284.8" y1="319.2" x2="277.2" y2="328.8" stroke-opacity="0.2"/><line x1="427.4" y1="420.2" x2="404.0" y2="430.7" stroke-opacity="0.5"/><line x1="326.3" y1="442.4" x2="334.0" y2="444.5" stroke-opacity="0.6"/><line x1="462.0" y1="347.1" x2="480.9" y2="362.4" stroke-opacity="0.6"/><line x1="483.8" y1="316.5" x2="484.9" y2="315.4" stroke-opacity="0.5"/><line x1="277.9" y1="346.8" x2="282.4" y2="317.5" stroke-opacity="0.6"/><line x1="328.1" y1="257.1" x2="350.9" y2="247.8" stroke-opacity="0.7"/><line x1="328.1" y1="257.1" x2="348.6" y2="255.4" stroke-opacity="0.6"/><line x1="356.2" y1="266.9" x2="375.7" y2="250.7" stroke-opacity="0.5"/><line x1="488.1" y1="346.0" x2="483.5" y2="306.4" stroke-opacity="0.7"/><line x1="374.4" y1="453.5" x2="404.4" y2="457.6" stroke-opacity="0.2"/><line x1="396.0" y1="421.3" x2="368.0" y2="425.8" stroke-opacity="0.28"/><line x1="337.3" y1="306.5" x2="315.7" y2="325.8" stroke-opacity="0.7"/><line x1="367.2" y1="307.6" x2="396.3" y2="286.1" stroke-opacity="0.7"/><line x1="350.6" y1="453.8" x2="375.4" y2="457.4" stroke-opacity="0.7"/><line x1="477.3" y1="396.2" x2="447.2" y2="435.8" stroke-opacity="0.7"/><line x1="311.8" y1="431.7" x2="334.0" y2="444.5" stroke-opacity="0.7"/><line x1="437.2" y1="345.5" x2="419.2" y2="359.9" stroke-opacity="0.28"/><line x1="409.6" y1="386.1" x2="442.4" y2="385.6" stroke-opacity="0.6"/><line x1="297.1" y1="298.7" x2="293.3" y2="340.4" stroke-opacity="0.28"/><line x1="483.8" y1="316.5" x2="491.8" y2="335.8" stroke-opacity="0.7"/><line x1="430.9" y1="435.8" x2="388.8" y2="448.3" stroke-opacity="0.5"/><line x1="427.4" y1="420.2" x2="430.9" y2="435.8" stroke-opacity="0.6"/><line x1="419.6" y1="282.2" x2="400.6" y2="256.3" stroke-opacity="0.28"/><line x1="383.0" y1="262.9" x2="375.7" y2="250.7" stroke-opacity="0.7"/><line x1="375.8" y1="358.8" x2="365.9" y2="380.8" stroke-opacity="0.5"/><line x1="315.7" y1="325.8" x2="295.9" y2="337.5" stroke-opacity="0.5"/><line x1="340.9" y1="400.3" x2="329.6" y2="428.0" stroke-opacity="0.28"/><line x1="293.3" y1="340.4" x2="294.5" y2="372.9" stroke-opacity="0.28"/><line x1="367.2" y1="307.6" x2="372.6" y2="279.7" stroke-opacity="0.5"/><line x1="439.1" y1="287.2" x2="469.5" y2="288.6" stroke-opacity="0.5"/><line x1="318.8" y1="275.7" x2="327.1" y2="286.5" stroke-opacity="0.6"/><line x1="275.8" y1="361.5" x2="290.2" y2="403.7" stroke-opacity="0.6"/><line x1="485.7" y1="389.6" x2="489.2" y2="362.3" stroke-opacity="0.2"/><line x1="395.2" y1="270.0" x2="419.6" y2="282.2" stroke-opacity="0.28"/><line x1="457.6" y1="295.4" x2="436.4" y2="276.3" stroke-opacity="0.28"/><line x1="410.6" y1="313.3" x2="433.1" y2="306.5" stroke-opacity="0.5"/><line x1="400.6" y1="256.3" x2="436.4" y2="276.3" stroke-opacity="0.2"/><line x1="434.0" y1="255.1" x2="436.4" y2="276.3" stroke-opacity="0.28"/><line x1="342.0" y1="365.0" x2="325.2" y2="345.8" stroke-opacity="0.6"/><line x1="410.6" y1="313.3" x2="417.9" y2="273.7" stroke-opacity="0.6"/><line x1="414.0" y1="450.0" x2="429.0" y2="449.0" stroke-opacity="0.6"/><line x1="361.1" y1="444.6" x2="337.1" y2="437.1" stroke-opacity="0.5"/><line x1="481.7" y1="384.0" x2="470.9" y2="406.5" stroke-opacity="0.2"/><line x1="447.2" y1="435.8" x2="464.0" y2="424.2" stroke-opacity="0.7"/><line x1="424.6" y1="258.4" x2="411.5" y2="247.9" stroke-opacity="0.2"/><line x1="363.2" y1="313.7" x2="367.4" y2="273.5" stroke-opacity="0.2"/><line x1="283.3" y1="377.6" x2="283.6" y2="391.4" stroke-opacity="0.2"/><line x1="349.0" y1="286.2" x2="327.1" y2="286.5" stroke-opacity="0.6"/><line x1="283.3" y1="377.6" x2="294.5" y2="372.9" stroke-opacity="0.28"/><line x1="434.0" y1="255.1" x2="461.0" y2="273.6" stroke-opacity="0.7"/><line x1="430.8" y1="380.5" x2="468.9" y2="382.1" stroke-opacity="0.2"/><line x1="491.8" y1="335.8" x2="485.7" y2="389.6" stroke-opacity="0.6"/><line x1="348.6" y1="255.4" x2="378.5" y2="241.8" stroke-opacity="0.6"/><line x1="326.3" y1="442.4" x2="309.6" y2="421.6" stroke-opacity="0.5"/><line x1="488.1" y1="346.0" x2="491.8" y2="335.8" stroke-opacity="0.6"/><line x1="275.8" y1="361.5" x2="283.6" y2="391.4" stroke-opacity="0.7"/><line x1="365.3" y1="424.1" x2="345.4" y2="390.5" stroke-opacity="0.6"/><line x1="424.6" y1="258.4" x2="395.2" y2="270.0" stroke-opacity="0.2"/><line x1="430.8" y1="380.5" x2="398.1" y2="400.1" stroke-opacity="0.28"/><line x1="365.3" y1="424.1" x2="388.8" y2="448.3" stroke-opacity="0.6"/><line x1="395.2" y1="270.0" x2="367.4" y2="273.5" stroke-opacity="0.2"/><line x1="430.8" y1="380.5" x2="430.4" y2="426.0" stroke-opacity="0.2"/><line x1="447.2" y1="435.8" x2="428.2" y2="449.3" stroke-opacity="0.5"/><line x1="415.8" y1="360.1" x2="410.9" y2="409.2" stroke-opacity="0.5"/><line x1="388.8" y1="243.1" x2="378.5" y2="241.8" stroke-opacity="0.5"/><line x1="283.3" y1="377.6" x2="278.7" y2="347.5" stroke-opacity="0.2"/><line x1="424.6" y1="258.4" x2="388.8" y2="243.1" stroke-opacity="0.28"/><line x1="361.1" y1="444.6" x2="375.4" y2="457.4" stroke-opacity="0.5"/><line x1="334.0" y1="444.5" x2="337.1" y2="437.1" stroke-opacity="0.5"/><line x1="462.0" y1="347.1" x2="462.1" y2="303.7" stroke-opacity="0.6"/><line x1="457.5" y1="273.6" x2="484.9" y2="315.4" stroke-opacity="0.28"/><line x1="396.3" y1="286.1" x2="372.6" y2="279.7" stroke-opacity="0.6"/><line x1="275.8" y1="361.5" x2="278.7" y2="347.5" stroke-opacity="0.2"/><line x1="396.0" y1="421.3" x2="358.8" y2="441.7" stroke-opacity="0.28"/><line x1="421.4" y1="303.1" x2="381.7" y2="330.8" stroke-opacity="0.2"/><line x1="298.3" y1="413.6" x2="290.2" y2="403.7" stroke-opacity="0.7"/><line x1="310.9" y1="309.4" x2="305.9" y2="355.9" stroke-opacity="0.2"/><line x1="395.2" y1="270.0" x2="350.2" y2="261.1" stroke-opacity="0.28"/><line x1="440.6" y1="402.2" x2="457.3" y2="357.1" stroke-opacity="0.28"/><line x1="363.2" y1="313.7" x2="371.8" y2="357.3" stroke-opacity="0.28"/><line x1="439.1" y1="287.2" x2="462.1" y2="303.7" stroke-opacity="0.5"/><line x1="363.2" y1="313.7" x2="408.2" y2="326.1" stroke-opacity="0.28"/><line x1="337.3" y1="306.5" x2="327.1" y2="286.5" stroke-opacity="0.6"/><line x1="323.6" y1="275.6" x2="349.6" y2="248.5" stroke-opacity="0.28"/><line x1="333.1" y1="348.1" x2="339.9" y2="300.9" stroke-opacity="0.2"/><line x1="351.7" y1="370.2" x2="354.3" y2="337.1" stroke-opacity="0.28"/><line x1="345.4" y1="390.5" x2="325.2" y2="345.8" stroke-opacity="0.6"/><line x1="301.1" y1="309.5" x2="337.3" y2="306.5" stroke-opacity="0.5"/><line x1="309.6" y1="421.6" x2="337.5" y2="422.9" stroke-opacity="0.7"/><line x1="388.8" y1="448.3" x2="337.1" y2="437.1" stroke-opacity="0.6"/><line x1="483.8" y1="316.5" x2="488.1" y2="346.0" stroke-opacity="0.7"/><line x1="365.1" y1="406.3" x2="327.7" y2="373.7" stroke-opacity="0.2"/><line x1="430.4" y1="426.0" x2="397.1" y2="439.9" stroke-opacity="0.28"/><line x1="439.1" y1="287.2" x2="396.3" y2="286.1" stroke-opacity="0.7"/><line x1="457.3" y1="357.1" x2="419.2" y2="359.9" stroke-opacity="0.28"/><line x1="305.9" y1="355.9" x2="311.1" y2="384.0" stroke-opacity="0.28"/><line x1="491.0" y1="368.9" x2="489.2" y2="362.3" stroke-opacity="0.6"/><line x1="361.1" y1="444.6" x2="337.5" y2="422.9" stroke-opacity="0.7"/><line x1="333.1" y1="348.1" x2="371.8" y2="357.3" stroke-opacity="0.2"/><line x1="409.6" y1="386.1" x2="380.9" y2="401.3" stroke-opacity="0.6"/><line x1="443.5" y1="433.3" x2="429.0" y2="449.0" stroke-opacity="0.2"/><line x1="304.8" y1="360.8" x2="314.7" y2="408.8" stroke-opacity="0.5"/><line x1="307.6" y1="385.2" x2="325.2" y2="345.8" stroke-opacity="0.7"/><line x1="311.1" y1="384.0" x2="327.7" y2="373.7" stroke-opacity="0.28"/><line x1="408.2" y1="326.1" x2="421.4" y2="303.1" stroke-opacity="0.28"/><line x1="480.9" y1="362.4" x2="442.4" y2="385.6" stroke-opacity="0.7"/><line x1="301.1" y1="309.5" x2="315.7" y2="325.8" stroke-opacity="0.6"/><line x1="455.3" y1="282.8" x2="439.4" y2="263.8" stroke-opacity="0.5"/><line x1="367.2" y1="307.6" x2="349.0" y2="286.2" stroke-opacity="0.5"/><line x1="430.9" y1="435.8" x2="463.1" y2="393.4" stroke-opacity="0.5"/><line x1="350.6" y1="453.8" x2="326.3" y2="442.4" stroke-opacity="0.6"/><line x1="470.9" y1="406.5" x2="458.6" y2="404.6" stroke-opacity="0.28"/><line x1="350.6" y1="453.8" x2="334.0" y2="444.5" stroke-opacity="0.7"/><line x1="329.6" y1="428.0" x2="315.6" y2="429.8" stroke-opacity="0.2"/><line x1="443.5" y1="433.3" x2="440.6" y2="402.2" stroke-opacity="0.2"/><line x1="318.8" y1="275.7" x2="349.0" y2="286.2" stroke-opacity="0.5"/><line x1="350.2" y1="261.1" x2="343.1" y2="279.7" stroke-opacity="0.2"/><line x1="318.8" y1="275.7" x2="328.6" y2="258.5" stroke-opacity="0.6"/><line x1="328.1" y1="257.1" x2="317.0" y2="268.6" stroke-opacity="0.2"/><line x1="297.1" y1="298.7" x2="317.0" y2="268.6" stroke-opacity="0.2"/><line x1="446.1" y1="311.1" x2="421.4" y2="303.1" stroke-opacity="0.2"/><line x1="415.8" y1="360.1" x2="442.4" y2="385.6" stroke-opacity="0.7"/><line x1="350.0" y1="340.1" x2="375.8" y2="358.8" stroke-opacity="0.7"/><line x1="401.3" y1="451.5" x2="404.4" y2="457.6" stroke-opacity="0.2"/><line x1="404.4" y1="457.6" x2="378.2" y2="459.2" stroke-opacity="0.5"/><line x1="323.6" y1="275.6" x2="317.0" y2="268.6" stroke-opacity="0.2"/><line x1="337.1" y1="437.1" x2="295.9" y2="337.5" stroke-opacity="0.45"/><line x1="433.1" y1="306.5" x2="383.0" y2="262.9" stroke-opacity="0.45"/><line x1="439.1" y1="287.2" x2="410.6" y2="313.3" stroke-opacity="0.45"/><line x1="318.8" y1="275.7" x2="356.2" y2="266.9" stroke-opacity="0.45"/><line x1="375.7" y1="250.7" x2="349.0" y2="286.2" stroke-opacity="0.45"/><line x1="292.7" y1="395.2" x2="380.9" y2="401.3" stroke-opacity="0.45"/><line x1="415.8" y1="360.1" x2="404.0" y2="430.7" stroke-opacity="0.45"/><line x1="447.2" y1="435.8" x2="463.1" y2="393.4" stroke-opacity="0.45"/><line x1="365.3" y1="424.1" x2="292.7" y2="395.2" stroke-opacity="0.45"/><line x1="436.8" y1="346.5" x2="433.1" y2="306.5" stroke-opacity="0.45"/><line x1="337.3" y1="306.5" x2="328.6" y2="258.5" stroke-opacity="0.45"/><line x1="488.1" y1="346.0" x2="436.8" y2="346.5" stroke-opacity="0.45"/><line x1="277.9" y1="346.8" x2="337.3" y2="306.5" stroke-opacity="0.45"/><line x1="415.8" y1="360.1" x2="365.9" y2="380.8" stroke-opacity="0.45"/><line x1="404.0" y1="430.7" x2="365.3" y2="424.1" stroke-opacity="0.45"/><line x1="282.4" y1="317.5" x2="318.8" y2="275.7" stroke-opacity="0.45"/><line x1="315.7" y1="325.8" x2="356.2" y2="266.9" stroke-opacity="0.45"/><line x1="394.8" y1="331.5" x2="480.9" y2="362.4" stroke-opacity="0.45"/><line x1="345.4" y1="390.5" x2="350.0" y2="340.1" stroke-opacity="0.45"/><line x1="350.0" y1="340.1" x2="307.6" y2="385.2" stroke-opacity="0.45"/><line x1="439.1" y1="287.2" x2="356.2" y2="266.9" stroke-opacity="0.45"/><line x1="325.2" y1="345.8" x2="300.1" y2="287.0" stroke-opacity="0.45"/><line x1="404.0" y1="430.7" x2="473.3" y2="411.7" stroke-opacity="0.45"/><line x1="409.6" y1="386.1" x2="462.0" y2="347.1" stroke-opacity="0.45"/><line x1="388.8" y1="448.3" x2="380.9" y2="401.3" stroke-opacity="0.45"/><line x1="459.1" y1="323.3" x2="436.8" y2="346.5" stroke-opacity="0.45"/><line x1="439.4" y1="263.8" x2="480.9" y2="362.4" stroke-opacity="0.45"/><line x1="337.1" y1="437.1" x2="342.0" y2="365.0" stroke-opacity="0.45"/><line x1="462.1" y1="303.7" x2="383.0" y2="262.9" stroke-opacity="0.45"/><line x1="342.0" y1="365.0" x2="380.9" y2="401.3" stroke-opacity="0.45"/><line x1="375.8" y1="358.8" x2="410.9" y2="409.2" stroke-opacity="0.45"/><line x1="433.1" y1="306.5" x2="455.3" y2="282.8" stroke-opacity="0.45"/><line x1="290.2" y1="403.7" x2="314.7" y2="408.8" stroke-opacity="0.45"/><line x1="430.9" y1="435.8" x2="365.3" y2="424.1" stroke-opacity="0.45"/><line x1="459.1" y1="323.3" x2="410.6" y2="313.3" stroke-opacity="0.45"/><line x1="328.6" y1="258.5" x2="315.7" y2="325.8" stroke-opacity="0.45"/><line x1="394.8" y1="331.5" x2="327.1" y2="286.5" stroke-opacity="0.45"/><line x1="415.8" y1="251.7" x2="348.6" y2="255.4" stroke-opacity="0.45"/></g>
<g fill="#ffffff" filter="url(#blur06)"><circle cx="477.3" cy="396.2" r="0.84"/><circle cx="311.8" cy="431.7" r="1.54"/><circle cx="483.8" cy="316.5" r="1.54"/><circle cx="415.8" cy="360.1" r="1.4"/><circle cx="365.3" cy="424.1" r="1.7"/><circle cx="292.7" cy="395.2" r="1.54"/><circle cx="356.2" cy="266.9" r="0.9799999999999999"/><circle cx="461.0" cy="273.6" r="0.84"/><circle cx="361.1" cy="444.6" r="1.54"/><circle cx="301.1" cy="309.5" r="0.9799999999999999"/><circle cx="280.4" cy="379.7" r="0.84"/><circle cx="459.1" cy="323.3" r="1.7"/><circle cx="488.1" cy="346.0" r="1.54"/><circle cx="439.1" cy="287.2" r="1.7"/><circle cx="409.6" cy="386.1" r="1.4"/><circle cx="375.4" cy="457.4" r="0.9799999999999999"/><circle cx="367.2" cy="307.6" r="2.2"/><circle cx="303.5" cy="277.1" r="0.9799999999999999"/><circle cx="396.3" cy="286.1" r="2.2"/><circle cx="447.2" cy="435.8" r="0.9799999999999999"/><circle cx="462.0" cy="347.1" r="2.2"/><circle cx="427.4" cy="420.2" r="1.7"/><circle cx="491.0" cy="368.9" r="0.84"/><circle cx="491.8" cy="335.8" r="1.54"/><circle cx="403.7" cy="243.5" r="1.54"/><circle cx="342.0" cy="365.0" r="2.2"/><circle cx="436.8" cy="346.5" r="2.2"/><circle cx="469.5" cy="288.6" r="1.54"/><circle cx="304.8" cy="360.8" r="2.2"/><circle cx="415.8" cy="251.7" r="1.19"/><circle cx="290.5" cy="363.5" r="0.9799999999999999"/><circle cx="430.9" cy="435.8" r="0.9799999999999999"/><circle cx="483.5" cy="306.4" r="0.84"/><circle cx="404.0" cy="430.7" r="1.4"/><circle cx="277.2" cy="328.8" r="1.54"/><circle cx="277.9" cy="346.8" r="1.54"/><circle cx="380.9" cy="401.3" r="2.2"/><circle cx="394.8" cy="331.5" r="2.2"/><circle cx="480.9" cy="362.4" r="0.84"/><circle cx="350.9" cy="247.8" r="1.19"/><circle cx="307.6" cy="385.2" r="1.7"/><circle cx="318.8" cy="275.7" r="0.9799999999999999"/><circle cx="349.0" cy="286.2" r="1.7"/><circle cx="350.0" cy="340.1" r="2.2"/><circle cx="455.3" cy="282.8" r="1.19"/><circle cx="348.6" cy="255.4" r="0.84"/><circle cx="383.0" cy="262.9" r="1.19"/><circle cx="478.5" cy="336.0" r="0.84"/><circle cx="404.4" cy="457.6" r="1.19"/><circle cx="410.6" cy="313.3" r="1.2"/><circle cx="433.1" cy="306.5" r="1.2"/><circle cx="309.6" cy="421.6" r="1.19"/><circle cx="334.0" cy="444.5" r="0.9799999999999999"/><circle cx="463.1" cy="393.4" r="1.54"/><circle cx="345.4" cy="390.5" r="1.2"/><circle cx="414.0" cy="450.0" r="0.9799999999999999"/><circle cx="337.3" cy="306.5" r="1.4"/><circle cx="282.4" cy="317.5" r="1.54"/><circle cx="315.7" cy="325.8" r="1.7"/><circle cx="328.6" cy="258.5" r="0.84"/><circle cx="295.9" cy="337.5" r="0.84"/><circle cx="375.7" cy="250.7" r="0.84"/><circle cx="442.4" cy="385.6" r="1.4"/><circle cx="314.7" cy="408.8" r="1.54"/><circle cx="327.1" cy="286.5" r="1.4"/><circle cx="417.9" cy="273.7" r="1.4"/><circle cx="378.5" cy="241.8" r="1.19"/><circle cx="485.7" cy="389.6" r="0.9799999999999999"/><circle cx="439.4" cy="263.8" r="1.54"/><circle cx="462.1" cy="303.7" r="0.84"/><circle cx="388.8" cy="448.3" r="1.19"/><circle cx="375.8" cy="358.8" r="1.7"/><circle cx="337.5" cy="422.9" r="1.7"/><circle cx="290.2" cy="403.7" r="1.54"/><circle cx="427.8" cy="250.9" r="1.19"/><circle cx="300.1" cy="287.0" r="0.84"/><circle cx="429.0" cy="449.0" r="1.54"/><circle cx="460.6" cy="417.5" r="0.9799999999999999"/><circle cx="473.3" cy="411.7" r="1.54"/><circle cx="410.9" cy="409.2" r="1.2"/><circle cx="378.2" cy="459.2" r="0.84"/><circle cx="289.4" cy="296.9" r="1.19"/><circle cx="337.1" cy="437.1" r="0.9799999999999999"/><circle cx="365.9" cy="380.8" r="1.2"/><circle cx="325.2" cy="345.8" r="1.4"/><circle cx="460.1" cy="373.0" r="2.2"/><circle cx="372.6" cy="279.7" r="1.4"/><circle cx="285.1" cy="331.5" r="0.84"/></g>
</g>
<circle cx="384" cy="350.5" r="108.8" fill="none" stroke="#ffffff" stroke-opacity="0.95" stroke-width="1.6"/>
<ellipse cx="384.1" cy="350.7" rx="140" ry="141" fill="none" stroke="#5797de" stroke-width="1.3" stroke-dasharray="5.2 6" opacity="0.8"/>
<path d="M214.0 202.5 L282.3 202.5 L315.0 241.2" fill="none" stroke="#3d7fd6" stroke-width="2" stroke-dasharray="0.01 4.2" stroke-linecap="round"/><path d="M220.0 197.5 L214.0 202.5 L220.0 207.5" fill="none" stroke="#3d7fd6" stroke-width="1.7" stroke-linecap="round" stroke-linejoin="round"/><path d="M307.3 239.8 L315.0 241.2 L314.9 233.4" fill="none" stroke="#3d7fd6" stroke-width="1.7" stroke-linecap="round" stroke-linejoin="round"/>
<path d="M554.4 202.5 L484.0 202.5 L451.0 241.0" fill="none" stroke="#3d7fd6" stroke-width="2" stroke-dasharray="0.01 4.2" stroke-linecap="round"/><path d="M548.4 207.5 L554.4 202.5 L548.4 197.5" fill="none" stroke="#3d7fd6" stroke-width="1.7" stroke-linecap="round" stroke-linejoin="round"/><path d="M451.1 233.2 L451.0 241.0 L458.7 239.7" fill="none" stroke="#3d7fd6" stroke-width="1.7" stroke-linecap="round" stroke-linejoin="round"/>
<path d="M191.5 341.7 L253.2 341.7" fill="none" stroke="#3d7fd6" stroke-width="2" stroke-dasharray="0.01 4.2" stroke-linecap="round"/><path d="M197.5 336.7 L191.5 341.7 L197.5 346.7" fill="none" stroke="#3d7fd6" stroke-width="1.7" stroke-linecap="round" stroke-linejoin="round"/><path d="M247.2 346.7 L253.2 341.7 L247.2 336.7" fill="none" stroke="#3d7fd6" stroke-width="1.7" stroke-linecap="round" stroke-linejoin="round"/>
<path d="M512.3 344.4 L571.7 344.4" fill="none" stroke="#3d7fd6" stroke-width="2" stroke-dasharray="0.01 4.2" stroke-linecap="round"/><path d="M518.3 339.4 L512.3 344.4 L518.3 349.4" fill="none" stroke="#3d7fd6" stroke-width="1.7" stroke-linecap="round" stroke-linejoin="round"/><path d="M565.7 349.4 L571.7 344.4 L565.7 339.4" fill="none" stroke="#3d7fd6" stroke-width="1.7" stroke-linecap="round" stroke-linejoin="round"/>
<path d="M226.9 494.4 L288.8 494.4 L317.4 458.3" fill="none" stroke="#3d7fd6" stroke-width="2" stroke-dasharray="0.01 4.2" stroke-linecap="round"/><path d="M232.9 489.4 L226.9 494.4 L232.9 499.4" fill="none" stroke="#3d7fd6" stroke-width="1.7" stroke-linecap="round" stroke-linejoin="round"/><path d="M317.6 466.1 L317.4 458.3 L309.8 459.9" fill="none" stroke="#3d7fd6" stroke-width="1.7" stroke-linecap="round" stroke-linejoin="round"/>
<path d="M545.7 494.4 L481.3 494.4 L451.5 457.9" fill="none" stroke="#3d7fd6" stroke-width="2" stroke-dasharray="0.01 4.2" stroke-linecap="round"/><path d="M539.7 499.4 L545.7 494.4 L539.7 489.4" fill="none" stroke="#3d7fd6" stroke-width="1.7" stroke-linecap="round" stroke-linejoin="round"/><path d="M459.2 459.4 L451.5 457.9 L451.4 465.7" fill="none" stroke="#3d7fd6" stroke-width="1.7" stroke-linecap="round" stroke-linejoin="round"/>
<rect x="271" y="74.5" width="46" height="11" fill="#1664bf"/>
<path d="M450.5 74.4 L480.5 74.4 L480.5 65.8 L498.8 80 L480.5 94.2 L480.5 85.5 L450.5 85.5 Z" fill="#1664bf"/>
<text x="334.4" y="91.0" font-size="21.9" font-weight="bold" fill="#1764bc" stroke="#1764bc" stroke-width="0.44" stroke-linejoin="round" textLength="99.8" lengthAdjust="spacingAndGlyphs">DATA FLOW</text>
<g fill="none" stroke="#3d7fd6" stroke-width="1.4" stroke-linecap="round" stroke-linejoin="round"><rect x="137.6" y="175.4" width="44.6" height="43" rx="4"/><line x1="137.6" y1="210.6" x2="175" y2="210.6"/><circle cx="150.6" cy="185.8" r="4.8"/><path d="M138.5 209.5 L152.3 196.3 L156.9 202.1 L170.6 184.5 L175 189"/><path d="M191.6 209.8 L204.6 225 Q206.5 227 208.2 225.4 Q209.8 223.8 208.2 221.8 L195.4 206.8"/><circle cx="183.3" cy="200.4" r="14.6" fill="#f7f8f8"/><circle cx="183.3" cy="200.4" r="10.4"/><line x1="179.9" y1="190.47" x2="179.9" y2="210.33"/><line x1="186.7" y1="190.47" x2="186.7" y2="210.33"/><line x1="173.27" y1="197.3" x2="193.33" y2="197.3"/><line x1="173.33" y1="203.7" x2="193.27" y2="203.7"/></g>
<text x="127.1" y="253.7" font-size="15.9" font-weight="bold" fill="#1a62ba" stroke="#1a62ba" stroke-width="0.32" stroke-linejoin="round" textLength="83.4" lengthAdjust="spacingAndGlyphs">INPUT IMAGE</text>
<g fill="none" stroke="#3d7fd6" stroke-width="1.4" stroke-linecap="round" stroke-linejoin="round"><path d="M119.6 344.2 L151.4 364.5 L183.4 344.2 L175 338.9"/><path d="M119.6 344.2 L128 338.9"/><path d="M119.6 332.2 L151.4 352.5 L183.4 332.2 L175 326.9"/><path d="M119.6 332.2 L128 326.9"/><path d="M151.4 299.6 L183.4 320.2 L151.4 339 L119.6 320.2 Z" fill="#f7f8f8"/></g>
<g fill="none" stroke="#3d7fd6" stroke-width="1.4" stroke-linecap="round" stroke-linejoin="round"><path d="M153.04 320.69 L152.85 321.41 L152.35 322.12 L151.54 322.77 L150.44 323.29 L149.09 323.62 L147.57 323.70 L145.96 323.51 L144.36 323.00 L142.89 322.19 L141.67 321.09 L140.79 319.74 L140.35 318.20 L140.43 316.55 L141.06 314.88 L142.27 313.30 L144.02 311.90 L146.27 310.78 L148.92 310.03 L151.84 309.72 L154.90 309.91 L157.92 310.62 L160.73 311.85 L163.17 313.56 L165.06 315.70"/><path d="M146.69 320.35 L145.92 319.87 L145.31 319.20 L144.93 318.37 L144.86 317.43 L145.14 316.42 L145.80 315.43 L146.84 314.53 L148.25 313.78 L149.96 313.27 L151.90 313.06 L153.96 313.19 L156.03 313.68 L157.97 314.55 L159.66 315.78 L160.96 317.33 L161.77 319.12 L162.00 321.09 L161.58 323.11 L160.48 325.09 L158.72 326.90 L156.36 328.43 L153.47 329.57 L150.20 330.23 L146.69 330.34"/><path d="M150.27 316.56 L151.23 316.32 L152.34 316.28 L153.53 316.45 L154.70 316.88 L155.77 317.56 L156.63 318.46 L157.20 319.57 L157.39 320.82 L157.15 322.14 L156.44 323.45 L155.25 324.68 L153.62 325.72 L151.60 326.49 L149.28 326.93 L146.77 326.97 L144.20 326.58 L141.73 325.74 L139.51 324.46 L137.68 322.79 L136.38 320.79 L135.72 318.55 L135.79 316.18 L136.64 313.81 L138.26 311.56"/><path d="M136.5 332.8 Q140 341 149.5 342" opacity="0.85"/><path d="M166.3 332 Q166 341 155 344.5" opacity="0.85" stroke-dasharray="4 2"/><path d="M146 345.2 L152 345.4" opacity="0.8"/></g>
<text x="76.9" y="387.8" font-size="15.9" font-weight="bold" fill="#1a62ba" stroke="#1a62ba" stroke-width="0.32" stroke-linejoin="round" textLength="150.9" lengthAdjust="spacingAndGlyphs">CONVLUTIONAL LAYERS</text>
<text x="99.6" y="403.1" font-size="14.1" font-weight="normal" fill="#2f6ec2" stroke="#2f6ec2" stroke-width="0.35" stroke-linejoin="round" textLength="104.4" lengthAdjust="spacingAndGlyphs">(Feature Extraction)</text>
<g fill="none" stroke="#3d7fd6" stroke-width="1.3"><rect x="156.0" y="442.6" width="8.2" height="8.7"/><rect x="171.6" y="442.6" width="8.2" height="8.7"/><rect x="187.8" y="442.6" width="8.4" height="8.7"/><rect x="171.6" y="456.1" width="8.2" height="8.5"/><rect x="187.8" y="456.1" width="8.4" height="8.5"/><rect x="204.8" y="456.1" width="8.4" height="8.5"/><rect x="206.0" y="470.7" width="6.1" height="5.6"/><rect x="195.1" y="481.3" width="6.1" height="5.9"/><rect x="206.0" y="481.3" width="6.1" height="5.9"/><rect x="195.1" y="492.6" width="6.1" height="5.8"/><path d="M156.8 471.8 L185 471.8 L185 490.6 L188.2 490.6 L181.2 497.3 L174.3 490.6 L177.2 490.6 L177.2 480.7 L156.8 480.7 Z"/></g>
<rect x="194.5" y="470.1" width="7.3" height="6.8" fill="#1c4fa8"/>
<text x="131.7" y="526.5" font-size="15.6" font-weight="bold" fill="#1a62ba" stroke="#1a62ba" stroke-width="0.31" stroke-linejoin="round" textLength="109.7" lengthAdjust="spacingAndGlyphs">POOLING LAYERS</text>
<text x="121.4" y="541.9" font-size="13.8" font-weight="normal" fill="#2f6ec2" stroke="#2f6ec2" stroke-width="0.34" stroke-linejoin="round" textLength="132.0" lengthAdjust="spacingAndGlyphs">(Dimeninality Reduction)</text>
<g fill="none" stroke="#3d7fd6" stroke-width="1.4" stroke-linecap="round" stroke-linejoin="round"><path d="M561.5 181.7 L561.5 174.2 L568.75 174.2"/><path d="M561.5 221.25 L561.5 228 L568.2 228"/><path d="M613 228 L619.8 228 L619.8 221.25"/><rect x="567.2" y="180.3" width="43.4" height="41.9"/><line x1="570.3" y1="185" x2="606.2" y2="185"/><rect x="573.1" y="207.9" width="5.3" height="9.2"/><rect x="584" y="199.6" width="5.2" height="17.5"/><rect x="595" y="190.2" width="5.2" height="26.9"/><circle cx="610.9" cy="202" r="10.4" fill="#f7f8f8"/><path d="M605.2 202 L609.6 206.1 L617.2 197.7"/></g>
<text x="571.9" y="251.8" font-size="15.6" font-weight="bold" fill="#1a62ba" stroke="#1a62ba" stroke-width="0.31" stroke-linejoin="round" textLength="39.8" lengthAdjust="spacingAndGlyphs">IMAGE</text>
<text x="548.5" y="268.7" font-size="15.6" font-weight="bold" fill="#1a62ba" stroke="#1a62ba" stroke-width="0.31" stroke-linejoin="round" textLength="87.6" lengthAdjust="spacingAndGlyphs">RECONIGITION</text>
<g fill="none" stroke="#3d7fd6" stroke-width="1.4" stroke-linecap="round" stroke-linejoin="round"><path d="M582.38 323.94 A6.21 6.21 0 0 1 586.61 313.69 A5.31 5.31 0 0 1 594.79 308.90 A6.66 6.66 0 0 1 606.44 306.55 A5.77 5.77 0 0 1 616.03 310.31 A4.88 4.88 0 0 1 622.24 316.42 A4.62 4.62 0 0 1 625.62 323.94 A5.33 5.33 0 0 1 620.92 332.21 A3.36 3.36 0 0 1 617.44 337.10 A8.87 8.87 0 0 1 601.65 338.42 A4.35 4.35 0 0 1 595.54 333.62 A5.15 5.15 0 0 1 586.61 331.46 A4.83 4.83 0 0 1 582.38 323.94Z"/><path d="M591.30 316.40 C590.82 317.32 588.40 320.02 588.40 321.90 C588.40 323.78 590.20 326.97 591.30 327.70 C592.40 328.43 593.55 326.05 595.00 326.30 C596.45 326.55 599.17 328.72 600.00 329.20"/><path d="M597.20 319.30 C597.32 318.63 597.05 316.08 597.90 315.30 C598.75 314.52 601.22 313.98 602.30 314.60 C603.38 315.22 604.17 317.90 604.40 319.00 C604.63 320.10 603.20 320.72 603.70 321.20 C604.20 321.68 606.18 321.30 607.40 321.90 C608.62 322.50 610.03 323.22 611.00 324.80 C611.97 326.38 612.35 329.82 613.20 331.40 C614.05 332.98 615.62 333.82 616.10 334.30"/><path d="M611.00 313.10 C611.62 314.08 613.23 317.53 614.70 319.00 C616.17 320.47 619.08 320.57 619.80 321.90 C620.52 323.23 619.37 326.03 619.00 327.00 C618.63 327.97 617.83 327.58 617.60 327.70"/><path d="M607.40 327.70 C607.40 328.43 608.25 331.07 607.40 332.10 C606.55 333.13 603.15 333.60 602.30 333.90"/><path d="M599.19 355.94 A6.40 6.40 0 0 1 605.40 346.35 A5.89 5.89 0 0 1 614.33 340.80 A5.74 5.74 0 0 1 624.57 341.18 A4.43 4.43 0 0 1 632.09 343.62 A4.36 4.36 0 0 1 637.64 349.07 A4.69 4.69 0 0 1 642.43 355.94 A4.72 4.72 0 0 1 640.36 364.11 A4.49 4.49 0 0 1 633.50 368.25 A7.27 7.27 0 0 1 621.19 372.39 A5.99 5.99 0 0 1 610.85 369.66 A4.64 4.64 0 0 1 604.08 364.87 A5.70 5.70 0 0 1 599.19 355.94Z" fill="#f7f8f8"/><path d="M612.00 346.80 C611.58 347.47 610.65 349.53 609.50 350.80 C608.35 352.07 605.47 352.95 605.10 354.40 C604.73 355.85 606.93 358.65 607.30 359.50"/><path d="M611.00 366.10 C611.23 365.00 611.55 361.32 612.40 359.50 C613.25 357.68 614.77 356.17 616.10 355.20 C617.43 354.23 619.80 354.57 620.40 353.70 C621.00 352.83 619.20 350.97 619.70 350.00 C620.20 349.03 622.18 348.13 623.40 347.90 C624.62 347.67 626.28 348.00 627.00 348.60 C627.72 349.20 628.07 350.90 627.70 351.50 C627.33 352.10 625.28 352.08 624.80 352.20"/><path d="M617.50 360.30 C617.50 361.02 616.65 363.63 617.50 364.60 C618.35 365.57 621.75 365.85 622.60 366.10"/><path d="M624.80 361.00 C625.65 360.52 628.57 358.35 629.90 358.10 C631.23 357.85 631.95 359.98 632.80 359.50 C633.65 359.02 634.87 357.02 635.00 355.20 C635.13 353.38 633.83 349.70 633.60 348.60"/><path d="M595.5 341.5 Q593.5 344 594.5 347.2 M594 344.3 L595.5 344.3"/><path d="M634.8 326 L648 326 M634.8 330.2 L648 330.2 M645.8 321.8 L651 328 L645.8 334.2"/></g>
<text x="556.6" y="399.5" font-size="15.9" font-weight="bold" fill="#1a62ba" stroke="#1a62ba" stroke-width="0.32" stroke-linejoin="round" textLength="118.0" lengthAdjust="spacingAndGlyphs">FULLY CONNECTED</text>
<text x="566.2" y="414.6" font-size="14.1" font-weight="normal" fill="#2f6ec2" stroke="#2f6ec2" stroke-width="0.35" stroke-linejoin="round" textLength="100.1" lengthAdjust="spacingAndGlyphs">(Output Prediction)</text>
<g fill="none" stroke="#3d7fd6" stroke-width="1.4" stroke-linecap="round" stroke-linejoin="round"><path d="M555.5 457.3 L555.5 449.1 L563.7 449.1"/><path d="M591.9 449.1 L599.7 449.1 L599.7 457.3"/><path d="M555.5 493.8 L555.5 501.8 L563.7 501.8"/><path d="M591.9 501.8 L599.7 501.8 L599.7 493.8"/><path d="M576.90 458.20 C572.53 458.20 567.37 457.92 564.30 459.80 C561.23 461.68 559.67 466.88 558.50 469.50 C557.33 472.12 557.27 473.50 557.30 475.50 C557.33 477.50 557.00 478.83 558.70 481.50 C560.40 484.17 564.17 489.53 567.50 491.50 C570.83 493.47 574.95 493.30 578.70 493.30 C582.45 493.30 587.08 493.47 590.00 491.50 C592.92 489.53 594.97 484.17 596.20 481.50 C597.43 478.83 597.40 477.50 597.40 475.50 C597.40 473.50 597.35 472.12 596.20 469.50 C595.05 466.88 593.72 461.68 590.50 459.80 C587.28 457.92 581.27 458.20 576.90 458.20Z"/><path d="M572.50 462.00 C571.00 463.25 565.25 467.17 563.50 469.50 C561.75 471.83 561.75 473.42 562.00 476.00 C562.25 478.58 563.00 482.58 565.00 485.00 C567.00 487.42 572.50 489.58 574.00 490.50"/><path d="M583.00 490.50 C584.33 489.58 589.25 487.42 591.00 485.00 C592.75 482.58 593.42 478.83 593.50 476.00 C593.58 473.17 593.33 470.33 591.50 468.00 C589.67 465.67 584.00 463.00 582.50 462.00"/><path d="M562 474.3 L573 474.3 M562 476.9 L573 476.9"/><path d="M582.5 474.3 L592.6 474.3 M582.5 476.9 L592.6 476.9" opacity="0.55"/><path d="M576.2 463 L576.2 471 M578.5 463 L578.5 471 M577.2 480 L577.2 488.5 M579.5 480 L579.5 488.5"/></g>
<circle cx="576.9" cy="458.2" r="4.6" fill="#f7f8f8" stroke="#3d7fd6" stroke-width="1.4"/>
<circle cx="557.3" cy="475.5" r="4.6" fill="#f7f8f8" stroke="#3d7fd6" stroke-width="1.4"/>
<circle cx="577.8" cy="475.5" r="4.6" fill="#f7f8f8" stroke="#3d7fd6" stroke-width="1.4"/>
<circle cx="597.4" cy="475.5" r="4.6" fill="#f7f8f8" stroke="#3d7fd6" stroke-width="1.4"/>
<circle cx="578.7" cy="493.3" r="4.6" fill="#f7f8f8" stroke="#3d7fd6" stroke-width="1.4"/>
<text x="530.2" y="532.4" font-size="15.9" font-weight="bold" fill="#1a62ba" stroke="#1a62ba" stroke-width="0.32" stroke-linejoin="round" textLength="96.3" lengthAdjust="spacingAndGlyphs">CLASSIICATION</text>
<text x="529.8" y="548.5" font-size="14.1" font-weight="normal" fill="#2f6ec2" stroke="#2f6ec2" stroke-width="0.35" stroke-linejoin="round" textLength="99.5" lengthAdjust="spacingAndGlyphs">(Output Prediction)</text>
<text x="128.4" y="664.9" font-size="36.9" font-weight="bold" fill="#1962ba" stroke="#1962ba" stroke-width="0.74" stroke-linejoin="round" textLength="511.1" lengthAdjust="spacingAndGlyphs">CONVLUTIONAL NEURAL NETWORKS</text>
<g stroke="#3a7fd2" stroke-width="2"><line x1="72.3" y1="690" x2="197.2" y2="690"/><line x1="274" y1="690" x2="476.2" y2="690"/><line x1="578.9" y1="690" x2="696.1" y2="690"/></g>
<text x="221.2" y="694.9" font-size="15.7" font-weight="normal" fill="#2f6cc0" stroke="#2f6cc0" stroke-width="0.39" stroke-linejoin="round" textLength="30.0" lengthAdjust="spacingAndGlyphs">DATA</text>
<text x="501.6" y="695.3" font-size="15.7" font-weight="normal" fill="#2f6cc0" stroke="#2f6cc0" stroke-width="0.39" stroke-linejoin="round" textLength="57.6" lengthAdjust="spacingAndGlyphs">INSIGHTS</text>
<path d="M725.5 707.3 Q729 722 743.3 725.5 Q729 729 725.5 743.8 Q722 729 707.8 725.5 Q722 722 725.5 707.3 Z" fill="#ffffff" opacity="0.5" filter="url(#blur05)"/></svg>
</body></html>
